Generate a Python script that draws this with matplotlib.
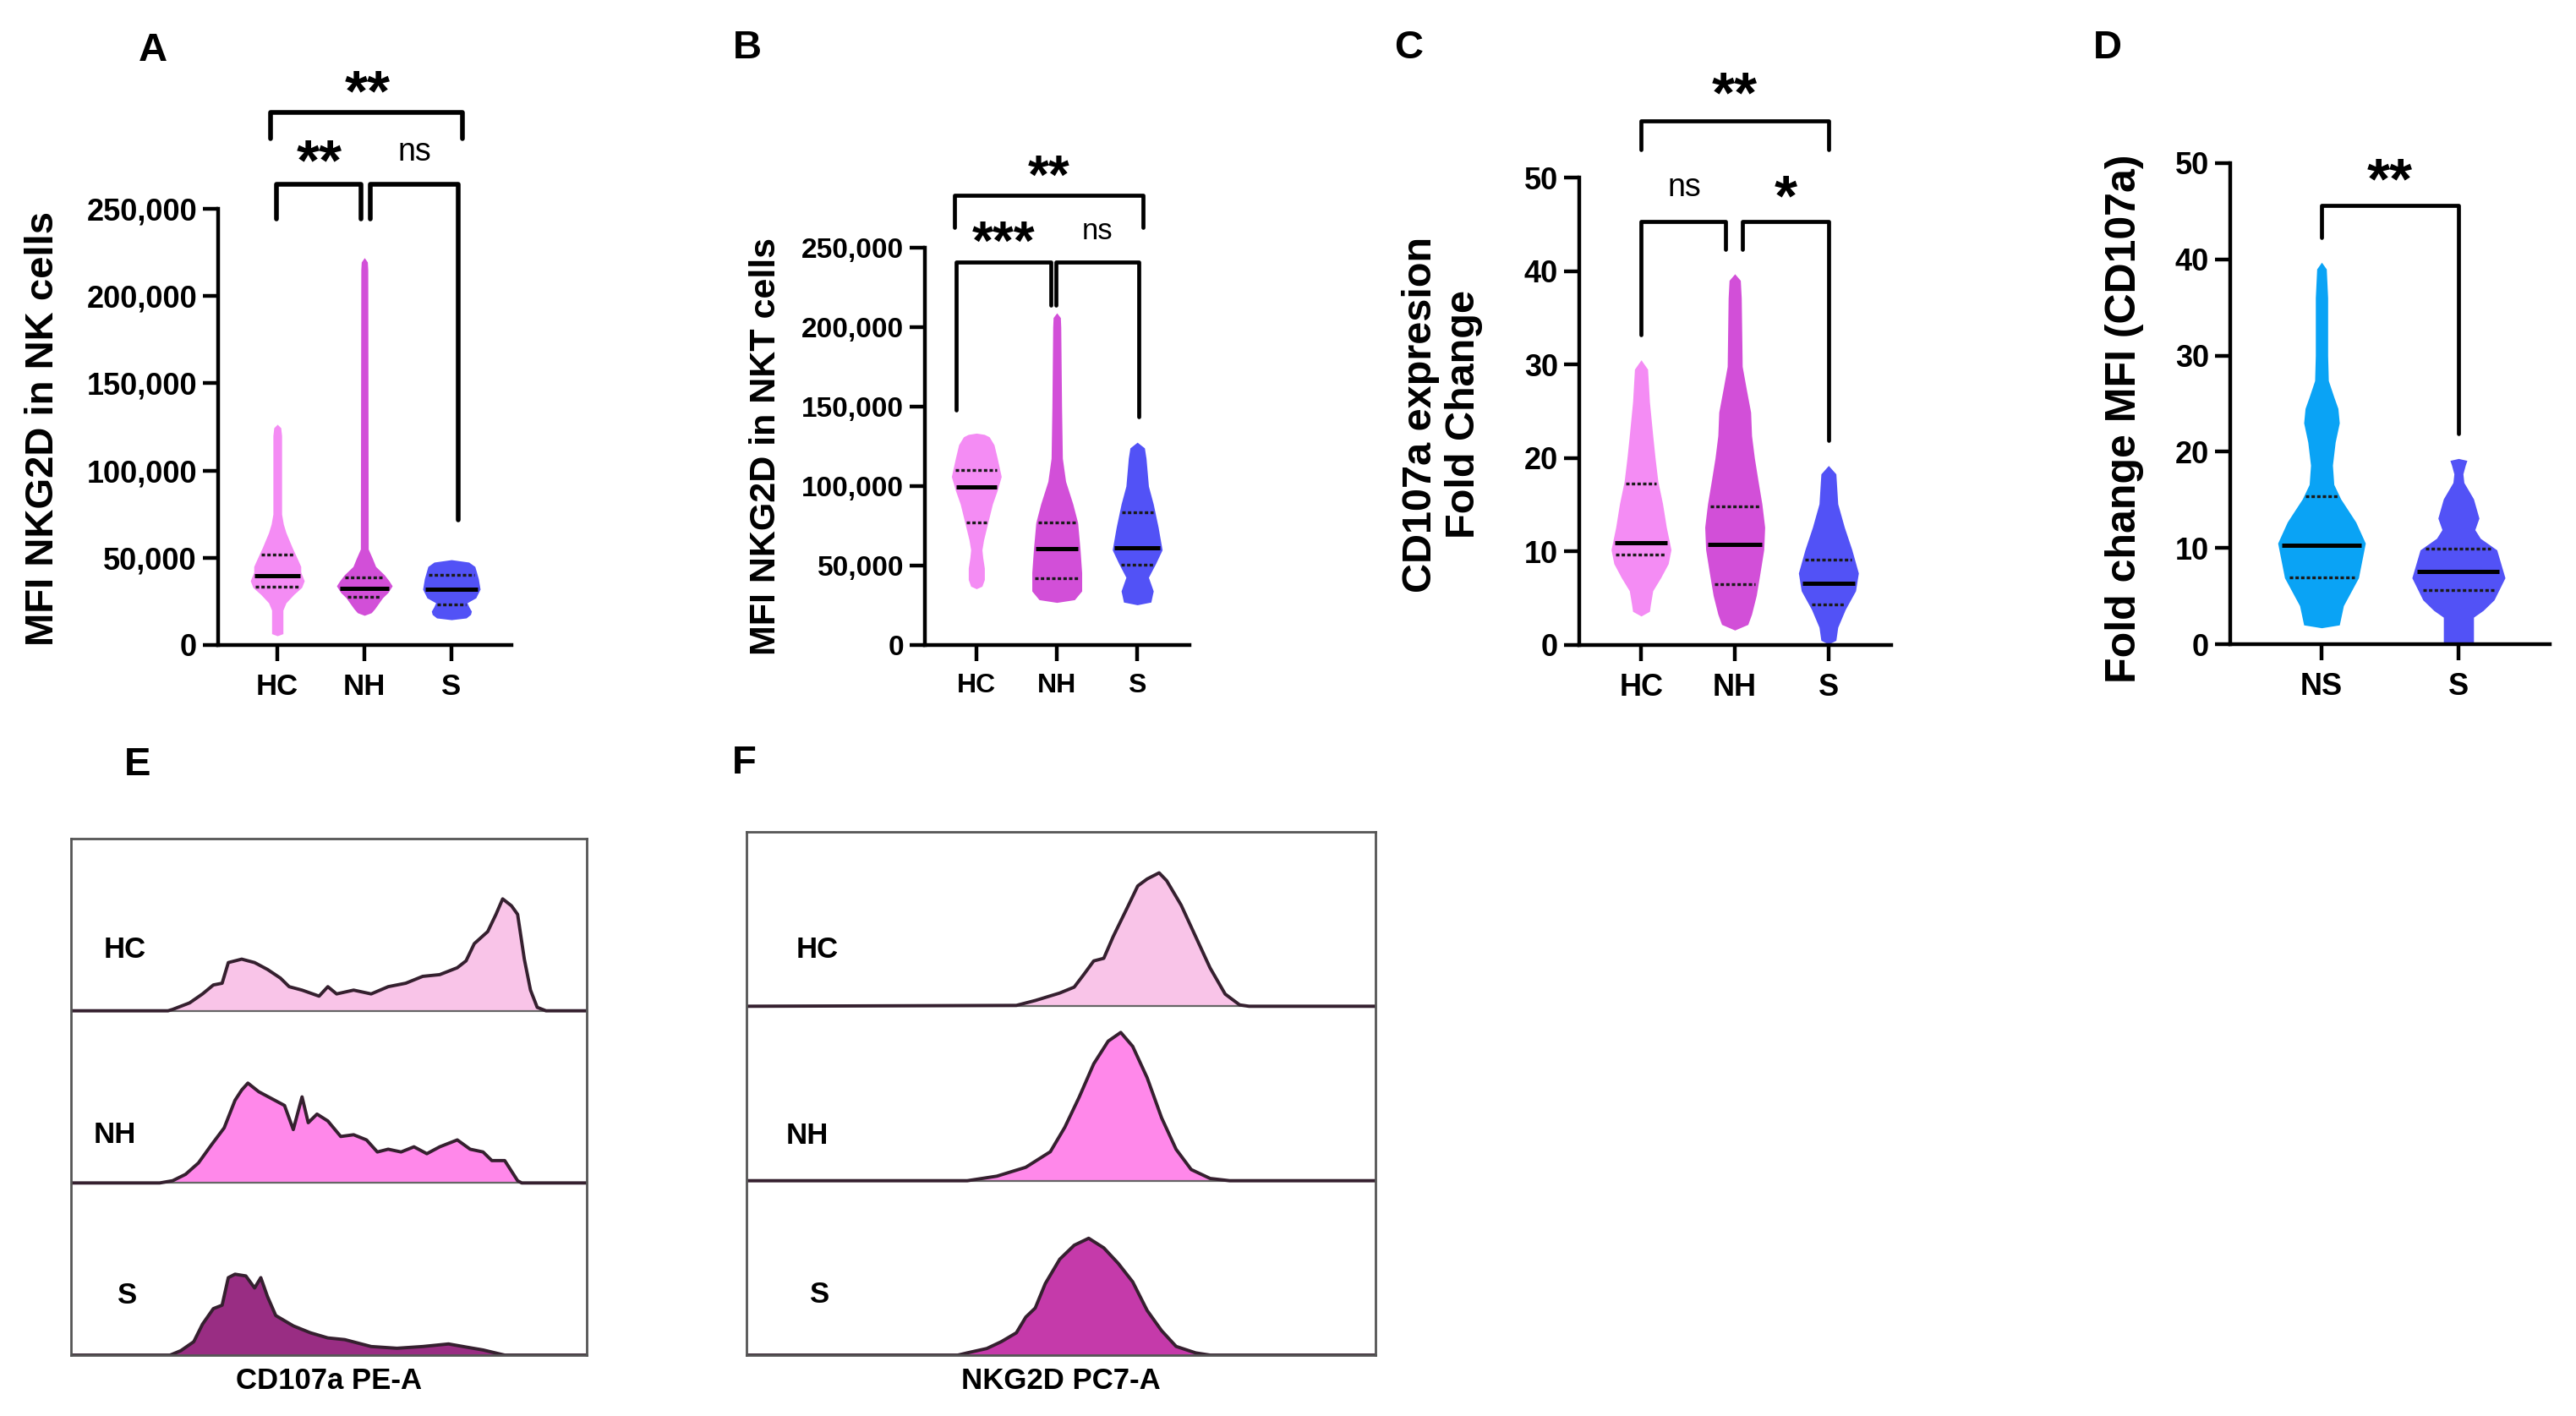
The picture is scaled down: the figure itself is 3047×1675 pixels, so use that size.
import numpy as np
import matplotlib.pyplot as plt

plt.rcParams['font.family'] = ['Liberation Sans', 'DejaVu Sans']

W, H = 3047, 1675

# ---------------- violin data (value levels, half widths in category units) ----------------
groups_abc = ["HC", "NH", "S"]
groups_d = ["NS", "S"]

# panel A: MFI NKG2D in NK cells
a_hc_y = [5300, 6500, 20000, 24200, 29000, 33000, 36800, 41700, 45000, 48400, 56000, 64400, 69300, 75000, 120000, 124500, 126500]
a_hc_w = [0.0, 0.065, 0.065, 0.10, 0.19, 0.28, 0.31, 0.27, 0.27, 0.24, 0.17, 0.10, 0.07, 0.05, 0.05, 0.04, 0.0]
a_nh_y = [17000, 18500, 20800, 27100, 30000, 33900, 37000, 40200, 45000, 49900, 55000, 215000, 219500, 222000]
a_nh_w = [0.0, 0.08, 0.12, 0.21, 0.27, 0.32, 0.28, 0.23, 0.13, 0.09, 0.045, 0.04, 0.035, 0.0]
a_s_y = [14500, 15500, 17500, 19400, 22000, 24200, 27000, 32000, 38000, 45000, 47500, 48900]
a_s_w = [0.0, 0.17, 0.22, 0.23, 0.2, 0.18, 0.28, 0.33, 0.31, 0.27, 0.2, 0.0]
a_median = [39600, 32500, 32000]
a_q1 = [33600, 27600, 23300]
a_q3 = [51900, 38800, 40200]

# panel B: MFI NKG2D in NKT cells
b_hc_y = [35400, 37000, 41200, 48400, 55000, 59900, 66000, 74300, 88700, 97300, 106000, 117500, 126000, 131000, 132500, 133300]
b_hc_w = [0.0, 0.07, 0.1, 0.1, 0.08, 0.07, 0.09, 0.13, 0.2, 0.26, 0.31, 0.26, 0.22, 0.16, 0.1, 0.0]
b_nh_y = [26800, 28500, 34000, 45500, 60000, 77000, 88700, 103000, 117500, 150000, 200000, 206000, 209000]
b_nh_w = [0.0, 0.22, 0.31, 0.31, 0.29, 0.26, 0.2, 0.11, 0.07, 0.06, 0.05, 0.045, 0.0]
b_s_y = [25300, 27000, 34000, 42600, 51300, 59900, 74300, 88700, 100000, 117500, 124000, 127600]
b_s_w = [0.0, 0.17, 0.2, 0.14, 0.23, 0.31, 0.26, 0.2, 0.14, 0.11, 0.09, 0.0]
b_median = [99400, 60500, 61300]
b_q1 = [77200, 41800, 50700]
b_q3 = [110300, 77200, 83500]

# panel C: CD107a expression fold change
c_hc_y = [3.1, 3.6, 4.3, 5.8, 7.2, 8.7, 10.2, 12.6, 15.1, 17.5, 20, 22.4, 26, 29.5, 30.5]
c_hc_w = [0.0, 0.09, 0.1, 0.125, 0.21, 0.29, 0.32, 0.27, 0.23, 0.18, 0.15, 0.125, 0.09, 0.07, 0.0]
c_nh_y = [1.6, 2.2, 3.3, 5.3, 7.7, 10.2, 12.6, 15.1, 17.5, 20, 22.4, 24.9, 27.3, 29.8, 37.1, 39.0, 39.7]
c_nh_w = [0.0, 0.14, 0.18, 0.23, 0.27, 0.31, 0.32, 0.29, 0.25, 0.21, 0.18, 0.17, 0.125, 0.08, 0.07, 0.06, 0.0]
c_s_y = [0.1, 0.5, 1.9, 3.8, 5.8, 7.7, 10.2, 12.6, 15.1, 18.3, 19.2]
c_s_w = [0.0, 0.08, 0.1, 0.18, 0.29, 0.32, 0.25, 0.17, 0.1, 0.08, 0.0]
c_median = [10.9, 10.8, 6.6]
c_q1 = [9.7, 6.5, 4.3]
c_q3 = [17.3, 14.8, 9.1]

# panel D: fold change MFI (CD107a)
d_ns_y = [1.7, 2.0, 4.0, 6.9, 10.5, 12.7, 15.1, 16.6, 18.6, 21.0, 23.0, 24.5, 25.7, 27.4, 30, 36, 39.0, 39.7]
d_ns_w = [0.0, 0.13, 0.16, 0.27, 0.32, 0.25, 0.14, 0.09, 0.08, 0.1, 0.13, 0.12, 0.09, 0.05, 0.045, 0.045, 0.035, 0.0]
d_s_y = [0.0, 0.3, 2.8, 3.5, 4.6, 6.9, 9.8, 11.0, 11.9, 13.1, 15.1, 16.8, 17.7, 18.6, 19.1, 19.3]
d_s_w = [0.11, 0.11, 0.11, 0.18, 0.26, 0.34, 0.28, 0.16, 0.12, 0.15, 0.11, 0.04, 0.033, 0.05, 0.062, 0.0]
d_median = [10.3, 7.6]
d_q1 = [6.9, 5.6]
d_q3 = [15.4, 9.9]

ticks_ab = [0, 50000, 100000, 150000, 200000, 250000]
ticklabels_ab = ["0", "50,000", "100,000", "150,000", "200,000", "250,000"]
ticks_cd = [0, 10, 20, 30, 40, 50]

# ---------------- histogram data (channel %, height % of row) ----------------
e_hc_x = [0, 18.8, 19.7, 23.0, 25.5, 27.6, 29.3, 30.5, 33.1, 35.6, 38.1, 40.6, 42.3, 44.8, 48.1, 49.8, 51.5, 54.8, 58.2, 61.5, 64.9, 68.2, 71.5, 74.9, 76.6, 78.2, 80.8, 82.4, 83.7, 85.4, 86.6, 87.9, 89.1, 90.4, 92.1, 100]
e_hc_h = [0, 0, 0.8, 4.6, 9.8, 15, 16, 28, 30, 28, 24, 19, 14, 12, 8.5, 14, 9.8, 12, 9.8, 14, 16, 20, 21, 25, 29, 39, 46, 56, 65, 61, 56, 30, 12, 2, 0, 0]
e_nh_x = [0, 17.2, 19.7, 22.2, 24.7, 27.2, 29.7, 31.8, 33.1, 34.3, 36.4, 38.9, 41.4, 43.1, 44.8, 46.0, 47.7, 49.8, 52.3, 54.8, 57.3, 59.4, 61.5, 64.0, 66.5, 69.0, 71.5, 74.9, 77.4, 79.9, 81.6, 84.1, 86.6, 87.4, 100]
e_nh_h = [0, 0, 1.3, 5, 11.6, 22, 32, 48, 54, 58, 53, 49, 45, 31, 50, 35, 40, 36, 27, 28, 25, 18, 19.6, 18, 21, 17, 21, 25, 19.6, 18, 13, 13, 1.3, 0, 0]
e_s_x = [0, 19.2, 21.3, 23.8, 25.5, 27.6, 29.3, 30.5, 31.8, 33.9, 35.6, 36.8, 38.1, 39.7, 43.1, 46.4, 49.8, 53.1, 58.2, 63.2, 68.2, 73.2, 76.6, 79.9, 84.1, 100]
e_s_h = [0, 0, 2.6, 7.8, 18, 27, 29, 45, 47, 46, 39, 45, 34, 23, 17, 13, 10, 9, 5, 4, 5, 6.5, 4.7, 3, 0, 0]

f_hc_x = [0, 42.9, 45.9, 49.8, 52.1, 53.7, 55.2, 56.8, 58.3, 60.6, 62.2, 63.7, 65.6, 66.8, 69.1, 71.4, 73.7, 76.1, 78.4, 79.9, 100]
f_hc_h = [0, 0.5, 3.3, 7.6, 11, 18.6, 26, 27.5, 40, 57, 69, 73, 76.5, 72, 58, 40, 22, 7, 0.8, 0, 0]
f_nh_x = [0, 35.1, 39.8, 44.4, 48.3, 50.6, 52.9, 55.2, 57.5, 59.5, 61.4, 63.7, 66.0, 68.3, 70.7, 73.7, 76.8, 100]
f_nh_h = [0, 0, 2.6, 7.7, 16.6, 30.6, 48, 67, 80, 85, 77, 59, 36, 18, 6.4, 1.3, 0, 0]
f_s_x = [0, 33.6, 35.1, 38.2, 40.5, 42.9, 44.4, 45.9, 47.5, 49.8, 52.1, 54.4, 56.8, 59.1, 61.4, 63.7, 66.0, 68.3, 71.4, 73.7, 100]
f_s_h = [0, 0, 1.3, 3.8, 7.7, 12.8, 21.8, 27, 41, 55, 63, 67, 61.5, 52.6, 42, 25.6, 14, 5, 1.3, 0, 0]

c_pink = "#F48CF4"
c_mag = "#D24FD8"
c_blue = "#5252F6"
c_cyan = "#0AA3F5"


def px_axes(fig, left, top, right, bottom):
    return fig.add_axes([left / W, 1 - bottom / H, (right - left) / W, (bottom - top) / H])


def violin(ax, pos, ys, ws, med, q1, q3, color):
    ys = np.array(ys, dtype=float)
    ws = np.array(ws, dtype=float)
    ax.fill_betweenx(ys, pos - ws, pos + ws, color=color, lw=0, zorder=2)
    wm = np.interp(med, ys, ws) * 0.92
    ax.plot([pos - wm, pos + wm], [med, med], color="black", lw=3.6, zorder=3, solid_capstyle="butt")
    for q in (q1, q3):
        wq = np.interp(q, ys, ws) * 0.88
        ax.plot([pos - wq, pos + wq], [q, q], color="#1a1a1a", lw=2.4, ls=(0, (1.2, 0.8)), zorder=3)


def bracket(ax, x1, x2, y, yl, yr, lw):
    ax.plot([x1, x1, x2, x2], [yl, y, y, yr], color="black", lw=lw, clip_on=False,
            solid_joinstyle="round", solid_capstyle="round", zorder=4)


def style_axes(ax, xlim, ylim, yticks, yticklabels, xticks, xticklabels, ysize, xsize):
    ax.set_xlim(*xlim)
    ax.set_ylim(*ylim)
    for s in ("top", "right"):
        ax.spines[s].set_visible(False)
    for s in ("left", "bottom"):
        ax.spines[s].set_linewidth(3.2)
    ax.set_yticks(yticks)
    ax.set_yticklabels(yticklabels, fontsize=ysize, fontweight="bold")
    ax.set_xticks(xticks)
    ax.set_xticklabels(xticklabels, fontsize=xsize, fontweight="bold")
    ax.tick_params(axis="y", length=13, width=3.2, pad=5)
    ax.tick_params(axis="x", length=14, width=3.2, pad=10)


fig = plt.figure(figsize=(W / 100, H / 100), dpi=100)

# ---------------- panel A ----------------
axA = px_axes(fig, 258, 247, 605, 763)
style_axes(axA, (-0.68, 2.69), (0, 250000), ticks_ab, ticklabels_ab, [0, 1, 2], groups_abc, 26, 25)
violin(axA, 0, a_hc_y, a_hc_w, a_median[0], a_q1[0], a_q3[0], c_pink)
violin(axA, 1, a_nh_y, a_nh_w, a_median[1], a_q1[1], a_q3[1], c_mag)
violin(axA, 2, a_s_y, a_s_w, a_median[2], a_q1[2], a_q3[2], c_blue)
bracket(axA, -0.08, 2.13, 305000, 290000, 290000, 4)
bracket(axA, -0.01, 0.96, 264000, 244000, 244000, 4)
bracket(axA, 1.07, 2.08, 264000, 244000, 71500, 4)
axA.text(1.04, 315000, "**", ha="center", va="center", fontsize=50, fontweight="bold")
axA.text(0.48, 275500, "**", ha="center", va="center", fontsize=50, fontweight="bold")
axA.text(1.58, 282500, "ns", ha="center", va="center", fontsize=27)
fig.text(51 / W, 1 - 507 / H, "MFI NKG2D in NK cells", rotation=90, ha="center", va="center",
         fontsize=34, fontweight="bold")
fig.text(181 / W, 1 - 60 / H, "A", ha="center", va="center", fontsize=34, fontweight="bold")

# ---------------- panel B ----------------
axB = px_axes(fig, 1094, 293, 1407, 763)
style_axes(axB, (-0.64, 2.65), (0, 250000), ticks_ab, ticklabels_ab, [0, 1, 2], groups_abc, 24, 23)
violin(axB, 0, b_hc_y, b_hc_w, b_median[0], b_q1[0], b_q3[0], c_pink)
violin(axB, 1, b_nh_y, b_nh_w, b_median[1], b_q1[1], b_q3[1], c_mag)
violin(axB, 2, b_s_y, b_s_w, b_median[2], b_q1[2], b_q3[2], c_blue)
bracket(axB, -0.27, 2.07, 283000, 263000, 263000, 3.4)
bracket(axB, -0.25, 0.93, 240800, 147700, 214000, 3.4)
bracket(axB, 0.99, 2.02, 240800, 214000, 143400, 3.4)
axB.text(0.9, 293000, "**", ha="center", va="center", fontsize=46, fontweight="bold")
axB.text(0.34, 251500, "***", ha="center", va="center", fontsize=46, fontweight="bold")
axB.text(1.5, 260500, "ns", ha="center", va="center", fontsize=25)
fig.text(906 / W, 1 - 528 / H, "MFI NKG2D in NKT cells", rotation=90, ha="center", va="center",
         fontsize=31, fontweight="bold")
fig.text(884 / W, 1 - 57 / H, "B", ha="center", va="center", fontsize=34, fontweight="bold")

# ---------------- panel C ----------------
axC = px_axes(fig, 1868, 210, 2237, 763)
style_axes(axC, (-0.66, 2.67), (0, 50), ticks_cd, [str(t) for t in ticks_cd], [0, 1, 2], groups_abc, 26, 26)
violin(axC, 0, c_hc_y, c_hc_w, c_median[0], c_q1[0], c_q3[0], c_pink)
violin(axC, 1, c_nh_y, c_nh_w, c_median[1], c_q1[1], c_q3[1], c_mag)
violin(axC, 2, c_s_y, c_s_w, c_median[2], c_q1[2], c_q3[2], c_blue)
bracket(axC, 0, 2, 56.1, 53.0, 53.0, 3.4)
bracket(axC, 0, 0.9, 45.3, 33.2, 42.3, 3.4)
bracket(axC, 1.08, 2, 45.3, 42.3, 21.9, 3.4)
axC.text(1.0, 58.6, "**", ha="center", va="center", fontsize=50, fontweight="bold")
axC.text(0.46, 48.9, "ns", ha="center", va="center", fontsize=27)
axC.text(1.54, 47.6, "*", ha="center", va="center", fontsize=50, fontweight="bold")
fig.text(1706 / W, 1 - 490 / H, "CD107a expresion\nFold Change", rotation=90, ha="center", va="center",
         fontsize=35, fontweight="bold", linespacing=1.15)
fig.text(1666 / W, 1 - 57 / H, "C", ha="center", va="center", fontsize=34, fontweight="bold")

# ---------------- panel D ----------------
axD = px_axes(fig, 2638, 193, 3016, 762)
style_axes(axD, (-0.667, 1.667), (0, 50), ticks_cd, [str(t) for t in ticks_cd], [0, 1], groups_d, 26, 26)
violin(axD, 0, d_ns_y, d_ns_w, d_median[0], d_q1[0], d_q3[0], c_cyan)
violin(axD, 1, d_s_y, d_s_w, d_median[1], d_q1[1], d_q3[1], c_blue)
bracket(axD, 0, 1, 45.6, 42.3, 21.9, 3.4)
axD.text(0.5, 47.9, "**", ha="center", va="center", fontsize=50, fontweight="bold")
fig.text(2513 / W, 1 - 495 / H, "Fold change MFI (CD107a)", rotation=90, ha="center", va="center",
         fontsize=36, fontweight="bold")
fig.text(2493 / W, 1 - 57 / H, "D", ha="center", va="center", fontsize=34, fontweight="bold")


# ---------------- histogram panels ----------------
def histo_panel(ax, rows, labels, label_pos, xlabel):
    ax.set_xlim(0, 100)
    ax.set_ylim(0, 3)
    ax.set_xticks([])
    ax.set_yticks([])
    for s in ax.spines.values():
        s.set_color("#555555")
        s.set_linewidth(2)
    ax.axhline(1, color="#666666", lw=1.6)
    ax.axhline(2, color="#666666", lw=1.6)
    for off, (xs, hs, col) in zip([2, 1, 0], rows):
        top = off + np.array(hs) / 100.0
        ax.fill_between(xs, off, top, color=col, lw=0)
        ax.plot(xs, top, color="#35202f", lw=2.8)
    for lab, (lx, ly) in zip(labels, label_pos):
        ax.text(lx, ly, lab, transform=ax.transAxes, ha="center", va="center",
                fontsize=25, fontweight="bold")
    ax.set_xlabel(xlabel, fontsize=25, fontweight="bold", labelpad=10)


axE = px_axes(fig, 84, 992, 694, 1603)
histo_panel(axE,
            [(e_hc_x, e_hc_h, "#F9C4E8"), (e_nh_x, e_nh_h, "#FF88EA"), (e_s_x, e_s_h, "#992D83")],
            ["HC", "NH", "S"], [(0.105, 0.784), (0.085, 0.427), (0.11, 0.116)], "CD107a PE-A")
fig.text(163 / W, 1 - 905 / H, "E", ha="center", va="center", fontsize=34, fontweight="bold")

axF = px_axes(fig, 883, 984, 1627, 1603)
histo_panel(axF,
            [(f_hc_x, f_hc_h, "#F9C4E8"), (f_nh_x, f_nh_h, "#FF88EA"), (f_s_x, f_s_h, "#C53AAA")],
            ["HC", "NH", "S"], [(0.112, 0.774), (0.097, 0.42), (0.116, 0.115)], "NKG2D PC7-A")
fig.text(880 / W, 1 - 903 / H, "F", ha="center", va="center", fontsize=34, fontweight="bold")

fig.savefig("out.png", dpi=100, facecolor="white")
